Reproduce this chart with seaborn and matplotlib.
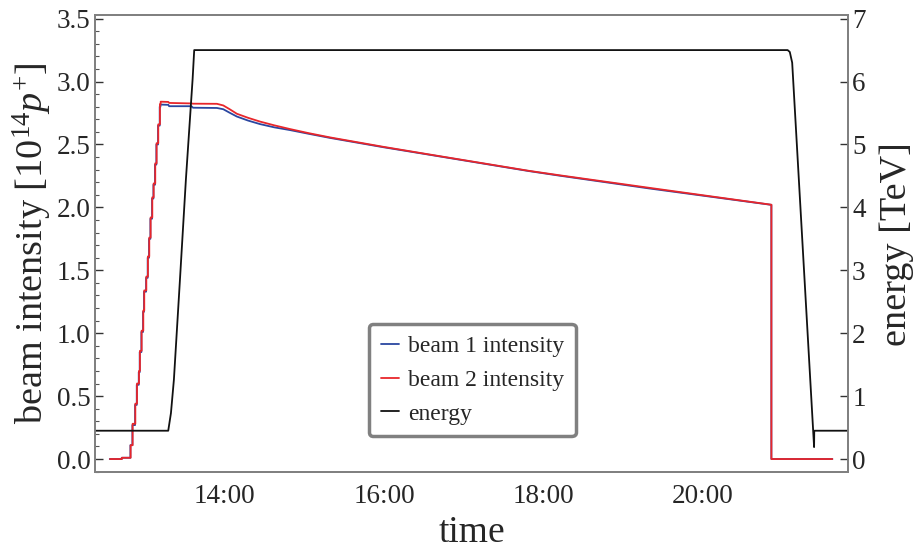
import numpy as np
import pandas as pd
import matplotlib
matplotlib.use("Agg")
import matplotlib.pyplot as plt
import matplotlib.dates as mdates
from matplotlib.ticker import MultipleLocator, FixedLocator, FormatStrFormatter
from matplotlib.lines import Line2D
import seaborn as sns

# ---- fill data: injection steps (hour of day, intensity in 1e14 p) ----
inj_hours = [12.558, 12.708, 12.817, 12.842, 12.876, 12.897, 12.922, 12.934,
             12.955, 12.976, 12.988, 13.014, 13.034, 13.051, 13.068, 13.089,
             13.106, 13.126, 13.143, 13.164, 13.185, 13.194]
b1_inj = [0.00, 0.01, 0.11, 0.27, 0.43, 0.59, 0.69, 0.85, 1.01, 1.17, 1.33,
          1.44, 1.60, 1.75, 1.91, 2.07, 2.18, 2.34, 2.50, 2.65, 2.80, 2.817]
b2_inj = [0.00, 0.01, 0.11, 0.28, 0.44, 0.60, 0.70, 0.86, 1.02, 1.18, 1.34,
          1.45, 1.61, 1.76, 1.92, 2.08, 2.19, 2.35, 2.51, 2.66, 2.82, 2.840]

# ---- ramp, squeeze and stable beams: intensity until the dump ----
decay_hours = [13.29, 13.30, 13.58, 13.60, 13.90, 13.98, 14.06, 14.15, 14.29,
               14.44, 14.62, 14.82, 15.05, 15.32, 15.99, 16.57, 17.82, 18.20,
               19.33, 20.859]
b1_decay = [2.815, 2.804, 2.804, 2.792, 2.790, 2.780, 2.752, 2.722, 2.690,
            2.662, 2.636, 2.614, 2.585, 2.552, 2.478, 2.418, 2.288, 2.252,
            2.150, 2.020]
b2_decay = [2.838, 2.830, 2.826, 2.824, 2.823, 2.810, 2.780, 2.744, 2.712,
            2.682, 2.652, 2.622, 2.590, 2.556, 2.481, 2.420, 2.290, 2.255,
            2.155, 2.021]

# ---- after the dump ----
dump_hours = [20.859, 21.624]
dump_level = [0.0, 0.0]

# ---- beam energy [TeV] ----
energy_hours = [12.20, 13.289, 13.323, 13.360, 13.436, 13.511, 13.595, 13.615,
                21.063, 21.090, 21.120, 21.395, 21.397, 22.00]
energy_tev = [0.45, 0.45, 0.73, 1.26, 2.85, 4.45, 6.04, 6.50,
              6.50, 6.47, 6.30, 0.19, 0.45, 0.45]

tick_hours = [14, 16, 18, 20]
day = pd.Timestamp("2016-06-01")


def to_time(hours):
    return day + pd.to_timedelta(np.asarray(hours, dtype=float), unit="h")


def staircase(hours, levels):
    """Turn injection levels into a step trace (hold, then jump)."""
    t, v = [hours[0]], [levels[0]]
    for h, lv in zip(hours[1:], levels[1:]):
        t += [h, h]
        v += [v[-1], lv]
    return t, v


def beam_frame(inj_v, decay_v, shift=0.0):
    t, v = staircase([h + shift for h in inj_hours], inj_v)
    t += decay_hours + dump_hours
    v += decay_v + dump_level
    return pd.DataFrame({"time": to_time(t), "intensity": v})


b1 = beam_frame(b1_inj, b1_decay, shift=-0.003)
b2 = beam_frame(b2_inj, b2_decay)
en = pd.DataFrame({"time": to_time(energy_hours), "energy": energy_tev})

sns.set_theme(style="white")
plt.rcParams["font.family"] = ["Liberation Serif", "DejaVu Serif"]
plt.rcParams["mathtext.fontset"] = "custom"
plt.rcParams["mathtext.rm"] = "Liberation Serif"
plt.rcParams["mathtext.it"] = "Liberation Serif:italic"

c_b1, c_b2, c_en = "#2a46a0", "#e8262b", "#111111"
spine_c = "#808080"

fig = plt.figure(figsize=(9.18, 5.53), dpi=100)
ax = fig.add_axes([0.1035, 0.1465, 0.8202, 0.8255])
ax2 = ax.twinx()

sns.lineplot(data=b1, x="time", y="intensity", ax=ax, color=c_b1, lw=1.3,
             estimator=None, sort=False)
sns.lineplot(data=b2, x="time", y="intensity", ax=ax, color=c_b2, lw=1.3,
             estimator=None, sort=False)
sns.lineplot(data=en, x="time", y="energy", ax=ax2, color=c_en, lw=1.3,
             estimator=None, sort=False)

ax.set_xlim(to_time([12.37])[0], to_time([21.82])[0])
ax.set_ylim(-0.103, 3.525)
ax2.set_ylim(-0.206, 7.05)

ax.xaxis.set_major_locator(FixedLocator(mdates.date2num(to_time(tick_hours))))
ax.xaxis.set_major_formatter(mdates.DateFormatter("%H:%M"))
ax.yaxis.set_major_locator(MultipleLocator(0.5))
ax.yaxis.set_minor_locator(MultipleLocator(0.1))
ax.yaxis.set_major_formatter(FormatStrFormatter("%.1f"))
ax2.yaxis.set_major_locator(MultipleLocator(1))

for a in (ax, ax2):
    for s in a.spines.values():
        s.set_color(spine_c)
        s.set_linewidth(1.3)

ax.tick_params(axis="both", which="major", direction="in", length=6,
               width=1.0, color="#333333", labelsize=19.5, pad=3)
ax.tick_params(axis="y", which="minor", direction="in", length=3,
               width=0.8, color="#555555", left=True)
ax.tick_params(axis="x", which="major", length=9, pad=9)
ax2.tick_params(axis="y", which="major", direction="in", length=6,
                width=1.0, color="#333333", labelsize=19.5, pad=3, right=True)

ax.set_xlabel("time", fontsize=27, labelpad=4)
ax.set_ylabel(r"beam intensity [$10^{14}p^{+}$]", fontsize=27.5, labelpad=2)
ax2.set_ylabel("energy [TeV]", fontsize=27.5, labelpad=10)

handles = [Line2D([], [], color=c_b1, lw=1.3),
           Line2D([], [], color=c_b2, lw=1.3),
           Line2D([], [], color=c_en, lw=1.3)]
leg = ax.legend(handles, ["beam 1 intensity", "beam 2 intensity", "energy"],
                loc="lower center", bbox_to_anchor=(0.501, 0.078),
                borderaxespad=0.0, fontsize=17, frameon=True, fancybox=True,
                handlelength=0.8, handletextpad=0.35, borderpad=0.5,
                labelspacing=0.52)
frame = leg.get_frame()
frame.set_edgecolor("#808080")
frame.set_linewidth(2.5)
frame.set_alpha(1.0)

fig.savefig("out.png", dpi=100)
